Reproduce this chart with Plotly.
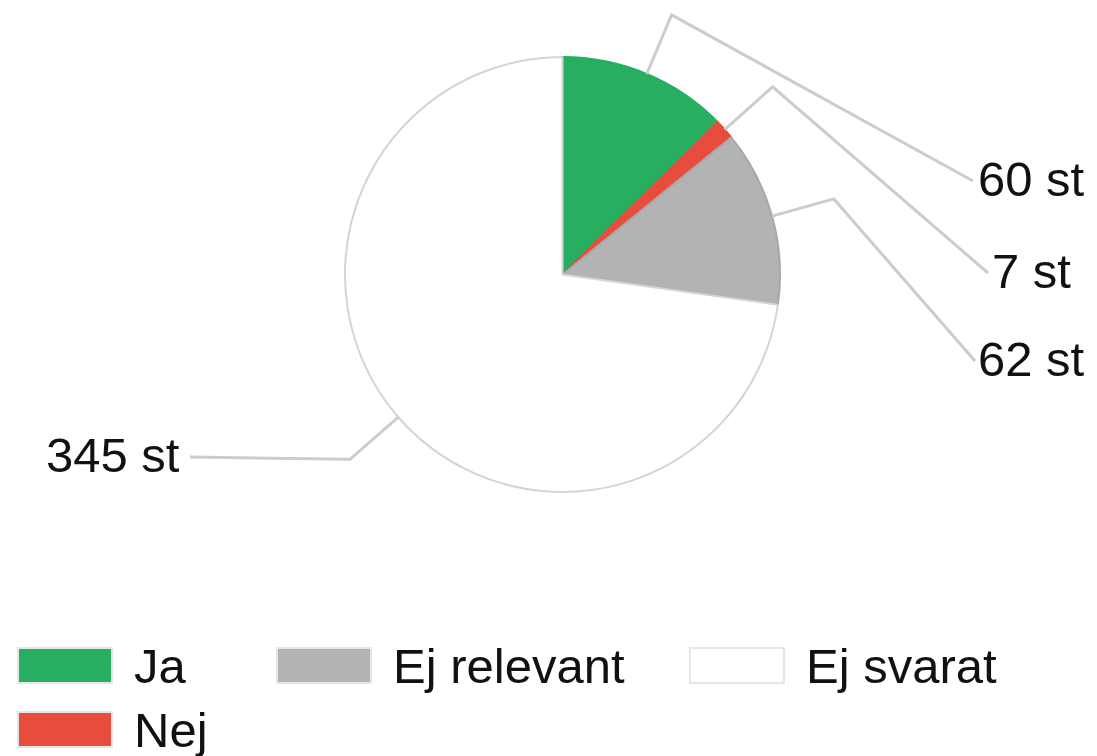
import math
import plotly.graph_objects as go

# ---- data ----
categories = ["Ja", "Nej", "Ej relevant", "Ej svarat"]
values = [60, 7, 62, 345]
value_labels = [f"{v} st" for v in values]

# ---- style / layout constants ----
colors = ["#27ae60", "#e74c3c", "#b3b3b3", "#ffffff"]
edge_colors = ["#27ae60", "#e74c3c", "#a8a8a8", "#d4d4d4"]
W, H = 1097, 756
CX, CY, R = 562.5, 274.5, 217.5          # pie centre / radius in px
ELBOW = 1.295                            # elbow radius factor
# label placement: (side, line-end x, line-end y, text x)
label_pos = [("r", 973, 181, 1031), ("r", 988, 273, 1031),
             ("r", 975, 361, 1031), ("l", 190, 457, 182)]
FONT = "Liberation Sans, Arial, sans-serif"
FS = 49
TXT = "#111111"
# legend: column x positions, row y positions (top of swatch), slot per item
leg_cols = [18, 277, 690]
leg_rows = [648, 712]
leg_slots = [(0, 0), (0, 1), (1, 0), (2, 0)]
SW_W, SW_H = 94, 35


def px(x):
    return x / W


def py(y):
    return 1 - y / H


fig = go.Figure()
fig.add_trace(go.Pie(
    labels=categories, values=values, sort=False, direction="clockwise",
    rotation=0, textinfo="none", hoverinfo="label+value",
    marker=dict(colors=colors, line=dict(color=edge_colors, width=2)),
    domain=dict(x=[px(CX - R), px(CX + R)], y=[py(CY + R), py(CY - R)]),
    showlegend=False,
))

shapes = []
annotations = []
total = sum(values)
cum = 0
for i, v in enumerate(values):
    mid = (cum + v / 2) / total * 2 * math.pi
    cum += v
    sx, sy = CX + R * math.sin(mid), CY - R * math.cos(mid)
    ex, ey = CX + R * ELBOW * math.sin(mid), CY - R * ELBOW * math.cos(mid)
    side, lx, ly, tx = label_pos[i]
    path = f"M{px(sx)},{py(sy)} L{px(ex)},{py(ey)} L{px(lx)},{py(ly)}"
    shapes.append(dict(type="path", xref="paper", yref="paper", path=path,
                       line=dict(color="#cccccc", width=3)))
    annotations.append(dict(
        x=px(tx), y=py(ly - 2), xref="paper", yref="paper",
        text=value_labels[i], showarrow=False,
        xanchor="center" if side == "r" else "right", yanchor="middle",
        font=dict(family=FONT, size=FS, color=TXT)))

# legend drawn manually
for i, cat in enumerate(categories):
    c, r = leg_slots[i]
    x0, y0 = leg_cols[c], leg_rows[r]
    shapes.append(dict(type="rect", xref="paper", yref="paper",
                       x0=px(x0), x1=px(x0 + SW_W), y0=py(y0 + SW_H), y1=py(y0),
                       fillcolor=colors[i], line=dict(color="#e6e6e6", width=2)))
    annotations.append(dict(
        x=px(x0 + SW_W + 20), y=py(y0 + SW_H / 2), xref="paper", yref="paper",
        text=cat, showarrow=False, xanchor="left", yanchor="middle",
        font=dict(family=FONT, size=FS, color=TXT)))

fig.update_layout(
    width=W, height=H, margin=dict(l=0, r=0, t=0, b=0),
    paper_bgcolor="white", plot_bgcolor="white",
    shapes=shapes, annotations=annotations, showlegend=False,
)
fig.write_html(
    "out.html",
    config={"displayModeBar": False},
    post_script="document.body.style.margin='0';"
                "document.body.style.overflow='hidden';",
)
